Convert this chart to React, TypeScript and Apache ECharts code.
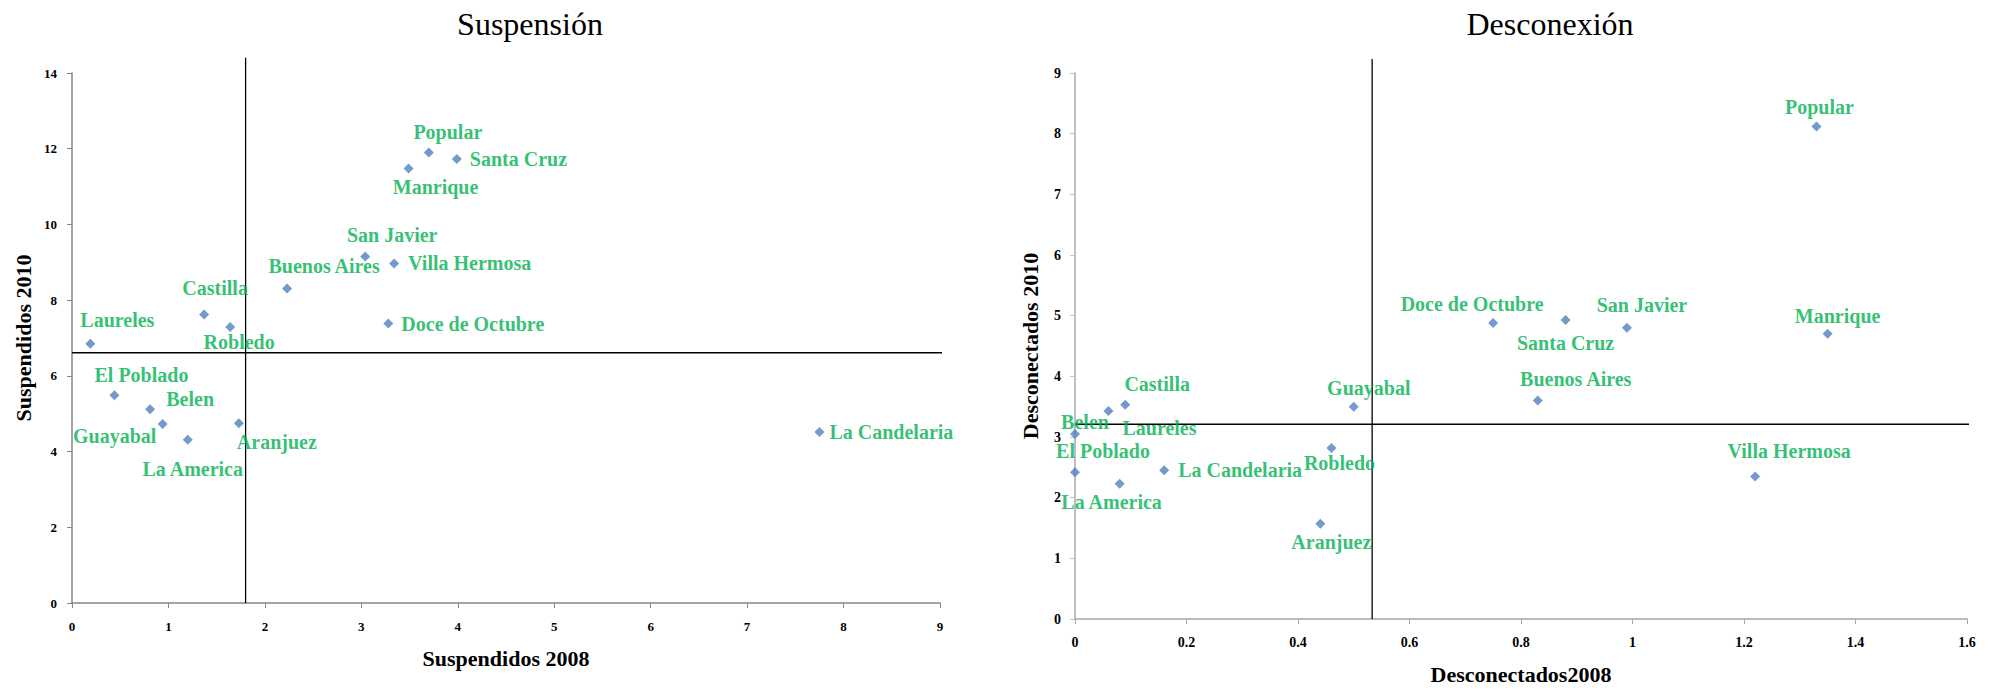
import React, { useEffect, useRef } from "react";
import * as echarts from "echarts";

// ---- Data ----
const comunas = [
  "Laureles", "Castilla", "Robledo", "Buenos Aires", "San Javier", "Villa Hermosa",
  "Doce de Octubre", "Popular", "Santa Cruz", "Manrique", "El Poblado", "Belen",
  "Guayabal", "La America", "Aranjuez", "La Candelaria",
];
const suspendidos2008 = [0.19, 1.37, 1.64, 2.23, 3.04, 3.34, 3.28, 3.70, 3.99, 3.49, 0.44, 0.81, 0.94, 1.20, 1.73, 7.75];
const suspendidos2010 = [6.85, 7.62, 7.29, 8.31, 9.15, 8.97, 7.38, 11.90, 11.73, 11.48, 5.49, 5.12, 4.73, 4.31, 4.75, 4.52];
const desconectados2008 = [0.06, 0.09, 0.46, 0.83, 0.99, 1.22, 0.75, 1.33, 0.88, 1.35, 0.0, 0.0, 0.50, 0.08, 0.44, 0.16];
const desconectados2010 = [3.43, 3.53, 2.82, 3.60, 4.80, 2.35, 4.88, 8.12, 4.93, 4.70, 2.42, 3.05, 3.50, 2.23, 1.57, 2.45];

// reference (average) lines
const suspVLine = [[1.8, 0], [1.8, 14.4]];
const suspHLine = [[0, 6.61], [9.19, 6.61]];
const descVLine = [[0.533, 0], [0.533, 9.23]];
const descHLine = [[0, 3.21], [1.637, 3.21]];

// ---- Label placement (layout, pixels) ----
type LP = [number, number, "center" | "left"];
const suspLabelPos: Record<string, LP> = {
  "Laureles": [27, -24, "center"],
  "Castilla": [11, -27, "center"],
  "Robledo": [9, 15, "center"],
  "Buenos Aires": [37, -22, "center"],
  "San Javier": [27, -22, "center"],
  "Villa Hermosa": [14, 0, "left"],
  "Doce de Octubre": [13, 0, "left"],
  "Popular": [19, -21, "center"],
  "Santa Cruz": [13, 0, "left"],
  "Manrique": [27, 19, "center"],
  "El Poblado": [27, -20, "center"],
  "Belen": [40, -10, "center"],
  "Guayabal": [-48, 12, "center"],
  "La America": [5, 29, "center"],
  "Aranjuez": [38, 19, "center"],
  "La Candelaria": [10, 0, "left"],
};
const descLabelPos: Record<string, LP> = {
  "Castilla": [32, -21, "center"],
  "Laureles": [51, 17, "center"],
  "Belen": [10, -12, "center"],
  "El Poblado": [28, -21, "center"],
  "La America": [-8, 18, "center"],
  "La Candelaria": [14, 0, "left"],
  "Guayabal": [15, -19, "center"],
  "Robledo": [8, 15, "center"],
  "Aranjuez": [11, 18, "center"],
  "Doce de Octubre": [-21, -19, "center"],
  "Santa Cruz": [0, 23, "center"],
  "San Javier": [15, -23, "center"],
  "Manrique": [10, -18, "center"],
  "Popular": [3, -19, "center"],
  "Buenos Aires": [38, -22, "center"],
  "Villa Hermosa": [34, -25, "center"],
};

const SERIF = "'Liberation Serif', 'Times New Roman', serif";
const GREEN = "#00B050";
const BLUE = "#4F81BD";

function pointData(xs: number[], ys: number[], pos: Record<string, LP>) {
  return comunas.map((name, i) => {
    const p = pos[name];
    return {
      name,
      value: [xs[i], ys[i]],
      label: {
        show: true,
        position: "inside",
        offset: [p[0], p[1]],
        align: p[2],
        verticalAlign: "middle",
        formatter: name,
        color: GREEN,
        fontFamily: SERIF,
        fontWeight: "bold",
        fontSize: 20,
      },
    };
  });
}

function refLine(data: number[][], xi: number) {
  return {
    type: "line",
    xAxisIndex: xi,
    yAxisIndex: xi,
    data,
    symbol: "none",
    clip: false,
    silent: true,
    z: 1,
    lineStyle: { color: "#000", width: 1.3 },
  };
}

export default function App() {
  const ref = useRef<HTMLDivElement>(null);
  useEffect(() => {
    if (!ref.current) return;
    const chart = echarts.init(ref.current, undefined, { renderer: "svg" });
    const tickLabel = (size: number) => ({
      color: "#000",
      fontFamily: SERIF,
      fontWeight: "bold",
      fontSize: size,
    });
    const axisName = {
      color: "#000",
      fontFamily: SERIF,
      fontWeight: "bold",
      fontSize: 22,
    };
    chart.setOption({
      animation: false,
      backgroundColor: "#fff",
      title: [
        {
          text: "Suspensión",
          left: 525,
          top: 3,
          textAlign: "center",
          textStyle: { fontFamily: SERIF, fontWeight: "normal", fontSize: 32, color: "#000" },
        },
        {
          text: "Desconexión",
          left: 1545,
          top: 3,
          textAlign: "center",
          textStyle: { fontFamily: SERIF, fontWeight: "normal", fontSize: 32, color: "#000" },
        },
      ],
      grid: [
        { left: 72, top: 73, width: 868, height: 530 },
        { left: 1075, top: 73, width: 892, height: 546 },
      ],
      xAxis: [
        {
          gridIndex: 0,
          type: "value",
          min: 0,
          max: 9,
          interval: 1,
          name: "Suspendidos 2008",
          nameLocation: "middle",
          nameGap: 44,
          nameTextStyle: axisName,
          splitLine: { show: false },
          axisLine: { show: true, lineStyle: { color: "#868686", width: 1.5 } },
          axisTick: { show: true, length: 5, lineStyle: { color: "#868686" } },
          axisLabel: { ...tickLabel(13), margin: 17 },
        },
        {
          gridIndex: 1,
          type: "value",
          min: 0,
          max: 1.6,
          interval: 0.2,
          name: "Desconectados2008",
          nameLocation: "middle",
          nameGap: 44,
          nameTextStyle: axisName,
          splitLine: { show: false },
          axisLine: { show: true, lineStyle: { color: "#A6A6A6", width: 1.5 } },
          axisTick: { show: true, length: 5, lineStyle: { color: "#A6A6A6" } },
          axisLabel: { ...tickLabel(14), margin: 16 },
        },
      ],
      yAxis: [
        {
          gridIndex: 0,
          type: "value",
          min: 0,
          max: 14,
          interval: 2,
          name: "Suspendidos 2010",
          nameLocation: "middle",
          nameGap: 38,
          nameTextStyle: axisName,
          splitLine: { show: false },
          axisLine: { show: true, lineStyle: { color: "#868686", width: 1.5 } },
          axisTick: { show: true, length: 5, lineStyle: { color: "#868686" } },
          axisLabel: { ...tickLabel(13), margin: 15 },
        },
        {
          gridIndex: 1,
          type: "value",
          min: 0,
          max: 9,
          interval: 1,
          name: "Desconectados 2010",
          nameLocation: "middle",
          nameGap: 34,
          nameTextStyle: axisName,
          splitLine: { show: false },
          axisLine: { show: true, lineStyle: { color: "#BFBFBF", width: 2 } },
          axisTick: { show: true, length: 5, lineStyle: { color: "#BFBFBF" } },
          axisLabel: { ...tickLabel(14), margin: 14 },
        },
      ],
      series: [
        refLine(suspVLine, 0),
        refLine(suspHLine, 0),
        refLine(descVLine, 1),
        refLine(descHLine, 1),
        {
          type: "scatter",
          xAxisIndex: 0,
          yAxisIndex: 0,
          symbol: "diamond",
          symbolSize: 10,
          itemStyle: { color: BLUE },
          z: 3,
          data: pointData(suspendidos2008, suspendidos2010, suspLabelPos),
        },
        {
          type: "scatter",
          xAxisIndex: 1,
          yAxisIndex: 1,
          symbol: "diamond",
          symbolSize: 10,
          itemStyle: { color: BLUE },
          z: 3,
          data: pointData(desconectados2008, desconectados2010, descLabelPos),
        },
      ],
    });
    return () => chart.dispose();
  }, []);
  return (
    <div
      ref={ref}
      style={{ position: "absolute", left: 0, top: 0, width: 1989, height: 690, background: "#fff" }}
    />
  );
}
